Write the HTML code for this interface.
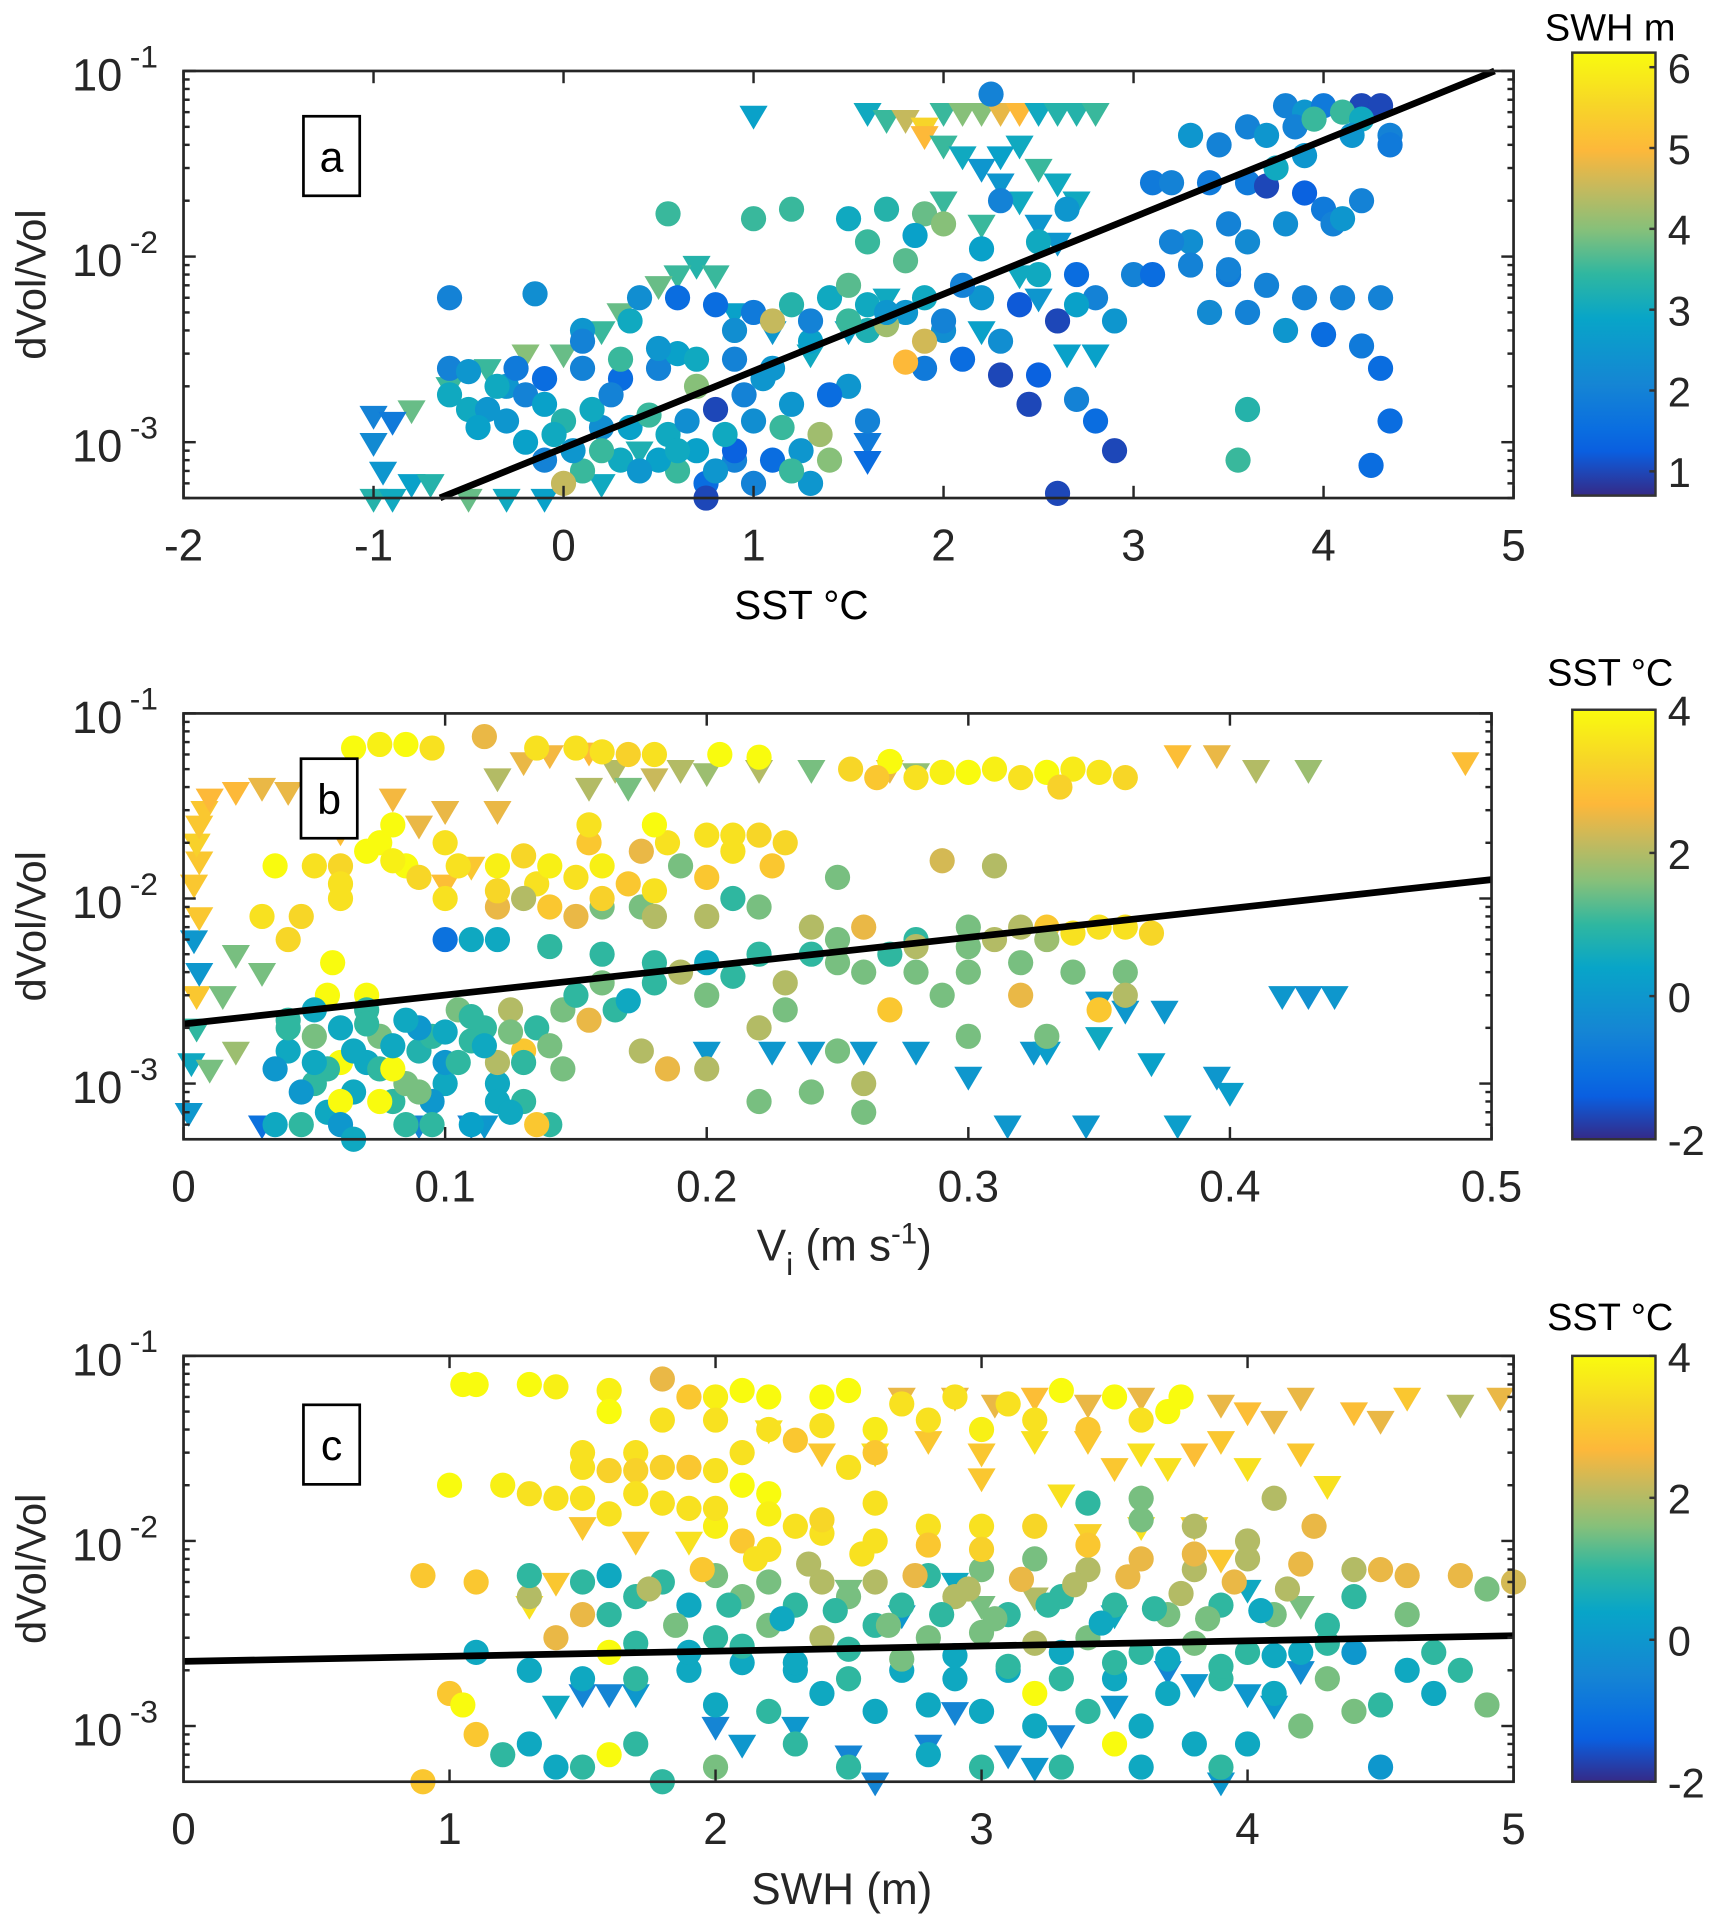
<!DOCTYPE html>
<html><head><meta charset="utf-8"><style>
html,body{margin:0;padding:0;background:#fff;}
svg{display:block;font-family:"Liberation Sans",Arial,sans-serif;}
</style></head><body>
<svg id="fig" xmlns="http://www.w3.org/2000/svg" width="1713" height="1920" viewBox="0 0 1400 1569" preserveAspectRatio="none">
<defs>
<linearGradient id="parula" x1="0" y1="1" x2="0" y2="0">
<stop offset="0" stop-color="#352a87"/><stop offset="0.1" stop-color="#0a5fe0"/><stop offset="0.15" stop-color="#0a6ee0"/>
<stop offset="0.25" stop-color="#1585d4"/><stop offset="0.4" stop-color="#08a5c8"/><stop offset="0.5" stop-color="#2fb7a0"/>
<stop offset="0.6" stop-color="#86c07a"/><stop offset="0.7" stop-color="#c9b95b"/><stop offset="0.78" stop-color="#fdb83a"/>
<stop offset="0.88" stop-color="#f7d528"/><stop offset="1" stop-color="#f9fb0e"/>
</linearGradient>
</defs>
</svg>
<script>
// ---------- Panel a data (SST, dVol/Vol, SWH) ----------
const aCircX=[3.8,3.9,4.0,4.2,4.3,4.1,4.35,3.6,3.7,3.3,3.45,4.2,3.9,4.35,3.1,3.2,3.4,3.6,3.7,3.9,4.0,4.05,4.1,3.8,3.5,3.6,3.3,3.0,2.7,3.1,3.3,3.5,3.7,3.9,4.1,4.3,3.4,3.6,3.8,4.0,4.2,4.3,4.35,4.25,3.6,3.55,2.6,2.9,2.8,2.7,2.45,2.5,2.3,2.1,1.9,2.3,2.0,1.5,1.6,1.4,1.2,1.0,0.8,1.1,1.3,0.9,0.75,0.6,0.5,0.3,0.1,0.0,-0.1,0.2,-0.2,-0.3,-0.5,-0.3,-0.1,0.1,0.3,0.5,0.7,-0.25,-0.6,-0.6,-0.15,0.4,0.6,0.8,1.0,1.2,1.4,1.6,1.8,2.0,2.2,2.4,2.6,2.8,1.1,1.6,1.9,1.8,1.7,0.55,1.0,1.2,1.5,1.7,1.9,1.85,1.6,2.3,2.0,2.2,1.8,1.5,2.5,2.5,2.65,2.25,0.75,0.9,-0.6,0.1,0.6,0.9,1.3];
const aCircY=[0.065,0.06,0.065,0.065,0.065,0.06,0.045,0.05,0.045,0.045,0.04,0.055,0.035,0.04,0.025,0.025,0.025,0.025,0.024,0.022,0.018,0.015,0.016,0.015,0.015,0.012,0.012,0.008,0.008,0.008,0.009,0.008,0.007,0.006,0.006,0.006,0.005,0.005,0.004,0.0038,0.0033,0.0025,0.0013,0.00075,0.0015,0.0008,0.00053,0.0009,0.0013,0.0017,0.0016,0.0023,0.0023,0.0028,0.0025,0.0035,0.004,0.002,0.0013,0.0018,0.0016,0.0013,0.0015,0.0008,0.0006,0.0008,0.0006,0.0007,0.0008,0.0008,0.0007,0.0006,0.0008,0.0012,0.001,0.0013,0.0015,0.002,0.0022,0.0025,0.0022,0.0025,0.002,0.0025,0.0018,0.006,0.0063,0.006,0.006,0.0055,0.005,0.0055,0.006,0.0055,0.005,0.0045,0.006,0.0055,0.0045,0.006,0.0045,0.004,0.0035,0.0027,0.0043,0.017,0.016,0.018,0.016,0.018,0.017,0.013,0.012,0.02,0.015,0.011,0.0095,0.007,0.008,0.012,0.018,0.075,0.0005,0.0009,0.0025,0.004,0.003,0.004,0.0035];
const aCircC=[2,2.5,1.8,1,1,3.5,2,2,2.5,2.5,2,3,2.5,1.8,1.8,2,1.8,1.8,1,1.3,1.8,2,2.5,2.3,2,2.2,2.3,2,1.5,1.5,2,1.8,2,2,2,2,2.2,2,2.5,1.5,1.8,1.5,1.5,1.5,3.3,3.5,1,1,1.5,2,1,1.3,1,1.5,1.8,2.3,2.3,2.5,2,1.5,2.5,2.3,1,1.5,2.5,2,1.5,3.5,2.8,3,3.5,4.5,2,2.3,2.8,2.5,3,2.5,1.5,2,1.5,2,4,1.8,3,2,2.3,2.3,1.5,1.5,1.8,3.3,3,3,2.5,2,2.5,1.2,1,2,4.5,3.2,4.6,5,4.2,3.5,3.5,3.5,3,3.3,3.8,2.8,3.5,2,4,2.8,3.7,3.7,3,3,2.5,2,1,1.3,2,2.5,2.8,2.3,2.8];
const aCircX2=[-0.4,-0.35,-0.2,-0.1,0,0.05,0.15,0.25,0.35,0.45,0.55,0.65,0.7,0.85,0.95,1.05,1.15,1.25,1.35,-0.45,-0.05,0.2,0.4,0.6,0.8,1.0,1.2,1.4,0.3,0.5,0.7,-0.5,0.1,0.35,0.9,1.1,1.3,1.5,1.7,1.9,2.1,2.7,2.9,3.2,3.5,3.75,3.85,4.15,3.95,4.2];
const aCircY2=[0.0015,0.002,0.0018,0.0016,0.0013,0.0009,0.0015,0.0018,0.0012,0.0014,0.0011,0.0013,0.0009,0.0011,0.0018,0.0022,0.0012,0.0009,0.0011,0.0012,0.0011,0.0009,0.0007,0.0009,0.0007,0.0006,0.0007,0.0008,0.0028,0.0032,0.0028,0.0024,0.0035,0.0045,0.0028,0.0025,0.0045,0.0045,0.005,0.006,0.007,0.0055,0.0045,0.012,0.0085,0.03,0.05,0.045,0.055,0.02];
const aCircC2=[2.5,3,2,2.8,3.3,2.5,3,2,2.8,3.5,3,2.3,2.8,3,2,2.5,3.5,2.5,4.2,2.8,3,3.5,2.5,3,2.5,2,3.5,4,3.5,2.5,3,2.5,2,3,2,2.5,2,3.5,2.5,3,2,2.8,2.5,2,2,3,2,2.5,3.5,2];
const aTriX=[1.0,1.6,1.7,1.8,1.9,2.0,2.1,2.2,2.3,2.4,2.5,2.6,2.7,2.8,1.9,2.0,2.1,2.2,2.3,2.4,2.5,2.6,2.3,2.4,2.5,2.6,2.2,2.0,2.7,2.4,2.5,2.65,2.8,2.2,1.7,1.5,1.3,1.1,0.9,0.7,0.6,0.8,0.5,0.3,0.2,0.0,-0.2,-0.4,-0.6,-0.8,-1.0,-0.9,-1.0,-0.95,-1.0,-0.9,-0.8,-0.7,-0.5,-0.3,-0.1,0.2,0.4,1.6,1.6];
const aTriY=[0.058,0.06,0.055,0.055,0.05,0.06,0.06,0.06,0.06,0.06,0.06,0.06,0.06,0.06,0.045,0.04,0.035,0.03,0.035,0.04,0.03,0.025,0.025,0.02,0.015,0.012,0.015,0.02,0.02,0.008,0.006,0.003,0.003,0.004,0.006,0.004,0.003,0.004,0.005,0.009,0.008,0.008,0.007,0.005,0.004,0.003,0.003,0.0025,0.002,0.0015,0.0014,0.0013,0.001,0.0007,0.0005,0.0005,0.0006,0.0006,0.0005,0.0005,0.0005,0.0006,0.0009,0.001,0.0008];
const aTriC=[2.8,3,3.5,4.5,5.5,3.5,4,4,4.8,5,3,3.3,3.3,3.5,5,3.5,3,2.5,2.8,3,3.5,3,2.5,3,2.5,2.5,3.5,3.5,3,3,2.5,2.8,2.8,2.8,3,2.8,3,2.5,2.8,3.3,3.5,3.5,3.8,3.8,3.5,3.8,4,3.5,3.5,3.8,2,1.8,2.2,2.5,3.3,3,2.8,3.3,3.8,3,2.8,3,3.2,1.8,1.5];
const aFit=[-3.031,0.4144]; const aFitRange=[-0.65,4.9];
const aXTicks=[-2,-1,0,1,2,3,4,5];
const aCbTicks=[1,2,3,4,5,6];

// ---------- Panel b data (Vi, dVol/Vol, SST) ----------
const bCircX=[0.065,0.075,0.085,0.095,0.115,0.135,0.15,0.16,0.17,0.18,0.205,0.22,0.255,0.27,0.28,0.29,0.3,0.31,0.32,0.33,0.34,0.35,0.36,0.265,0.335,0.035,0.05,0.06,0.07,0.075,0.08,0.085,0.09,0.1,0.105,0.12,0.13,0.135,0.14,0.15,0.155,0.16,0.17,0.175,0.185,0.2,0.21,0.22,0.225,0.19,0.29,0.31,0.25,0.18,0.155,0.03,0.04,0.045,0.06,0.057,0.055,0.07,0.12,0.13,0.15,0.16,0.175,0.18,0.2,0.21,0.22,0.24,0.25,0.26,0.28,0.3,0.32,0.33,0.34,0.35,0.36,0.37,0.33,0.1,0.11,0.12,0.14,0.16,0.18,0.2,0.22,0.24,0.26,0.28,0.3,0.32,0.34,0.36,0.29,0.32,0.35,0.36,0.27,0.23,0.22,0.25,0.26,0.3,0.2,0.22,0.24,0.26,0.33,0.04,0.05,0.06,0.07,0.08,0.09,0.1,0.11,0.12,0.13,0.14,0.045,0.055,0.065,0.075,0.085,0.095,0.105,0.115,0.125,0.135,0.145,0.155,0.165,0.175,0.185,0.06,0.08,0.06,0.075,0.04,0.05,0.07,0.09,0.1,0.11,0.12,0.13,0.135,0.145,0.05,0.085];
const bCircY=[0.065,0.068,0.068,0.065,0.075,0.065,0.065,0.062,0.06,0.06,0.06,0.058,0.05,0.055,0.045,0.048,0.048,0.05,0.045,0.048,0.05,0.048,0.045,0.045,0.04,0.015,0.015,0.015,0.018,0.02,0.025,0.015,0.013,0.02,0.015,0.015,0.017,0.012,0.015,0.013,0.02,0.015,0.012,0.018,0.02,0.022,0.022,0.022,0.015,0.015,0.016,0.015,0.013,0.025,0.025,0.008,0.006,0.008,0.01,0.0045,0.003,0.003,0.009,0.01,0.008,0.009,0.009,0.008,0.008,0.01,0.009,0.007,0.006,0.007,0.006,0.007,0.007,0.007,0.0065,0.007,0.007,0.0065,0.006,0.006,0.006,0.006,0.0055,0.005,0.0045,0.0045,0.005,0.005,0.004,0.004,0.004,0.0045,0.004,0.004,0.003,0.003,0.0025,0.003,0.0025,0.0025,0.002,0.0015,0.001,0.0018,0.0012,0.0008,0.0009,0.0007,0.0018,0.0015,0.001,0.002,0.0013,0.0008,0.0015,0.001,0.0006,0.001,0.0008,0.0006,0.0006,0.0007,0.0009,0.0012,0.001,0.0018,0.0025,0.002,0.0025,0.002,0.0025,0.0022,0.0025,0.0015,0.0012,0.0013,0.0012,0.0008,0.0008,0.002,0.0025,0.0025,0.002,0.0013,0.0017,0.0013,0.0015,0.0006,0.0012,0.0018,0.0006];
const bCircC=[4,3.8,4,3.5,2.5,3.5,3.5,3.5,3.2,3.5,4,4,3.3,4,3.5,3.8,4,3.8,3.5,4,3.7,3.6,3.3,3,3.2,4,3.5,3.3,4,4,4,4,3.3,3.5,3.5,3.8,3.3,3.5,3.8,3.5,3,3.8,3,2.5,3.5,3.5,3.5,3.3,3,1.5,2.3,2,1.5,4,3.5,3.5,3.3,3.3,3.5,4,4,4,2.5,2,2.5,1.5,1.5,2,2,1,1.5,2,1.5,2.5,1,1.5,2,3,3.5,3.5,3.5,3.3,1.8,-1,0.5,0.5,1,1,1,0.5,1,1,1.5,1.5,1.5,1.5,1.5,1.5,1.5,2.5,3,2,3,1.5,2,1.5,2,1.5,2,1.5,1.5,1.5,1.5,0.5,1,0.5,0.5,1,0.8,0.5,0.3,0.5,1,1,1,0.5,0.5,1,1.5,1,1.5,1,2,1,1.5,2.5,1,2,2.5,4,4,4,4,1,0.5,1,0,0,1,2,3,3,1.5,1.5,1];
const bCircX2=[0.035,0.045,0.055,0.065,0.075,0.085,0.095,0.105,0.115,0.125,0.04,0.05,0.06,0.07,0.08,0.09,0.1,0.11,0.12,0.13,0.14,0.035,0.065,0.095,0.125,0.15,0.16,0.17,0.18,0.19,0.2,0.21,0.23,0.25,0.27,0.28,0.3,0.31,0.06,0.08,0.1,0.12,0.14,0.16,0.18,0.2,0.21,0.23];
const bCircY2=[0.0006,0.0009,0.0012,0.0015,0.0018,0.0022,0.0008,0.0013,0.0016,0.0019,0.0022,0.0013,0.0006,0.0021,0.0016,0.0009,0.0019,0.0023,0.0008,0.0013,0.0016,0.0012,0.0005,0.0006,0.0007,0.003,0.0035,0.0028,0.0035,0.004,0.003,0.0038,0.0035,0.0045,0.005,0.0055,0.0055,0.006,0.012,0.016,0.01,0.011,0.009,0.01,0.011,0.013,0.018,0.02];
const bCircC2=[0.5,0,1,0.5,1.5,0.5,0,1,0.5,1.5,1,0.5,0,1,0.5,1.5,0.5,1,0.5,1,1.5,0,0.5,1,0.5,1,1.5,0.5,1,2,1.5,1,2,1.5,1,2,1.5,2,3.5,3.8,3.5,3.3,3,3.2,3.5,3,3.5,3.3];
const bTriX=[0.002,0.003,0.005,0.005,0.006,0.004,0.006,0.004,0.006,0.005,0.006,0.008,0.01,0.02,0.03,0.04,0.06,0.08,0.1,0.12,0.09,0.06,0.02,0.03,0.015,0.01,0.02,0.13,0.14,0.155,0.165,0.18,0.19,0.2,0.22,0.24,0.27,0.28,0.38,0.395,0.41,0.43,0.49,0.12,0.1,0.155,0.17,0.11,0.1,0.2,0.225,0.24,0.26,0.28,0.3,0.315,0.325,0.33,0.345,0.35,0.36,0.375,0.37,0.38,0.4,0.395,0.42,0.43,0.44,0.35,0.11,0.115,0.09,0.03];
const bTriY=[0.0007,0.0013,0.002,0.003,0.004,0.006,0.008,0.012,0.016,0.02,0.025,0.03,0.035,0.038,0.04,0.038,0.035,0.035,0.03,0.03,0.025,0.023,0.005,0.004,0.003,0.0012,0.0015,0.055,0.06,0.062,0.05,0.045,0.05,0.048,0.05,0.05,0.05,0.048,0.06,0.06,0.05,0.05,0.055,0.045,0.03,0.04,0.04,0.015,0.012,0.0015,0.0015,0.0015,0.0015,0.0015,0.0011,0.0006,0.0015,0.0015,0.0006,0.0018,0.0025,0.0025,0.0013,0.0006,0.0009,0.0011,0.003,0.003,0.003,0.0028,0.0006,0.0006,0.0006,0.0006];
const bTriC=[0,0.5,1,3,0,0,3,3,3,3.2,3,3,2.7,2.7,2.5,2.5,2.5,2.6,2.5,2.5,2.5,2.8,1.5,1.5,1.5,1.5,1.8,2.5,2.6,2.7,2,2.2,2,1.8,2,1.5,2.5,1.7,2.8,2.5,2,1.8,2.8,2,2.5,2,1.5,3,2.8,0,0,0,0,0,0,0,0,0.2,0,0.5,0,0,0.3,0.2,0.2,0,0,-0.2,0,0,-0.5,0,-0.5,-1];
const bFit=[-2.678,1.56]; const bFitRange=[0,0.5];
const bXTicks=[0,0.1,0.2,0.3,0.4,0.5];
const bCbTicks=[-2,0,2,4];

// ---------- Panel c data (SWH, dVol/Vol, SST) ----------
const cCircX=[1.05,1.1,1.3,1.4,1.6,1.8,1.9,2.0,2.1,2.2,2.4,2.5,2.7,2.9,3.1,3.3,3.5,3.75,1.6,1.8,2.0,2.2,2.4,2.6,2.8,3.0,3.2,3.4,3.6,3.7,1.5,1.7,1.9,2.1,2.3,2.5,2.6,1.5,1.6,1.7,1.8,2.0,1.0,1.2,1.3,1.4,1.5,1.6,1.7,1.8,1.9,2.1,2.2,2.3,2.0,2.1,2.2,2.4,2.6,2.8,3.0,3.2,0.9,1.1,1.3,1.5,1.4,1.6,1.0,1.05,1.1,1.2,0.9,1.6,3.5,3.2,1.3,1.5,1.6,1.8,2.0,2.2,2.4,2.6,2.8,3.0,3.2,3.4,3.6,3.8,4.0,4.2,4.4,4.6,4.8,5.0,3.6,3.8,4.0,4.25,3.4,3.6,4.1,4.5,4.9,4.4,1.7,1.9,2.1,2.3,2.5,2.7,2.9,3.1,3.3,3.5,3.7,3.9,4.1,4.3,2.0,2.2,2.4,2.6,2.8,3.0,3.2,3.4,3.6,3.8,4.0,4.2,4.4,4.6,4.8,1.1,1.3,1.5,1.7,1.9,2.1,2.3,2.5,2.7,2.9,3.1,3.3,3.5,3.7,3.9,4.1,4.3,4.5,4.7,4.9,2.0,2.2,2.4,2.6,2.8,3.0,3.2,3.4,3.6,3.8,4.0,4.2,4.4,1.3,1.4,1.5,1.7,1.8,2.0,2.3,2.5,2.8,3.0,3.3,3.6,3.9,4.5];
const cCircY=[0.07,0.07,0.07,0.068,0.065,0.075,0.06,0.06,0.065,0.06,0.06,0.065,0.055,0.06,0.055,0.065,0.06,0.06,0.05,0.045,0.045,0.04,0.042,0.04,0.045,0.04,0.045,0.04,0.045,0.05,0.03,0.03,0.025,0.03,0.035,0.025,0.03,0.025,0.024,0.024,0.025,0.024,0.02,0.02,0.018,0.017,0.017,0.014,0.018,0.016,0.015,0.02,0.018,0.012,0.012,0.01,0.009,0.011,0.01,0.012,0.012,0.012,0.0065,0.006,0.005,0.004,0.003,0.0025,0.0015,0.0013,0.0009,0.0007,0.0005,0.0007,0.0008,0.0015,0.0065,0.006,0.0065,0.006,0.0065,0.006,0.006,0.006,0.0065,0.007,0.008,0.007,0.008,0.007,0.008,0.0075,0.007,0.0065,0.0065,0.006,0.013,0.012,0.01,0.012,0.016,0.017,0.017,0.007,0.0055,0.005,0.005,0.0045,0.005,0.0045,0.005,0.0045,0.005,0.004,0.005,0.0045,0.004,0.0045,0.004,0.0035,0.003,0.0035,0.003,0.0035,0.003,0.0032,0.0028,0.003,0.0025,0.0028,0.0025,0.0025,0.0025,0.002,0.002,0.0025,0.002,0.0018,0.0018,0.002,0.0022,0.002,0.0018,0.002,0.0018,0.002,0.0018,0.0018,0.0015,0.0018,0.0015,0.0018,0.0013,0.0015,0.0013,0.0013,0.0012,0.0015,0.0012,0.0013,0.0012,0.001,0.0012,0.001,0.0008,0.0008,0.001,0.0012,0.0008,0.0006,0.0006,0.0008,0.0005,0.0006,0.0008,0.0006,0.0007,0.0006,0.0006,0.0006,0.0006,0.0006];
const cCircC=[4,4,4,3.8,3.8,2.5,3,3.8,4,4,4,4,3.5,3.5,3.5,4,4,4,4,3.5,3.5,3.5,3.5,3.7,3.5,3.8,3.5,3,3.5,4,3.5,3.5,3,3.5,3,3.5,3,3.5,3.2,3.2,3.2,3.5,4,3.8,3.5,3.5,3.5,3.5,3.5,3.5,3.5,4,4,3.5,3.8,3,3.5,3.5,3.5,3.5,3.5,3.3,3,3,2,2.5,2.5,4,3,4,3,1,3,4,4,4,1,1,0.5,1,1.5,1.5,2,2,1,1.5,1.5,2,2.5,2,2,2.5,2,2.5,2.5,2.3,1.5,2,2,2.5,1,1.5,2,2.5,1.5,1,1,0.5,1.5,1,1.5,1,2,1,1,1,1.5,1,1.5,1,1,1.5,2,1,1.5,1.5,2,1.5,1,1.5,1,0.5,0,0.5,1,0.5,0.5,0.5,1,0.5,0.5,0.5,1,0.5,0.5,0.5,1,0.5,0.5,1,0.5,1.5,1,0.5,1.5,0.5,1,0.5,0.5,0.5,0.5,0.5,1,0.5,0.5,0.5,1.5,1.5,0.5,0.5,1,1,1,1.5,1,1,0.5,1,1,0.5,1,0];
const cCircX2=[1.6,1.75,1.85,1.95,2.05,2.15,2.25,2.35,2.45,2.55,2.65,2.75,2.85,2.95,3.05,3.15,3.25,3.35,3.45,3.55,3.65,3.75,3.85,3.95,4.05,4.15,1.7,1.9,2.1,2.3,2.5,2.7,2.9,3.1,3.3,3.5,3.7,3.9,4.1,4.3,2.0,2.2,2.4,2.6,2.8,3.0,3.4,3.8,4.6,4.7];
const cCircY2=[0.004,0.0055,0.0035,0.007,0.0045,0.008,0.0038,0.0075,0.0042,0.0085,0.0035,0.0065,0.004,0.0055,0.0038,0.0062,0.0045,0.0058,0.0036,0.0064,0.0043,0.0052,0.0038,0.006,0.0042,0.0055,0.0028,0.0025,0.0027,0.0022,0.0026,0.0023,0.0024,0.0021,0.0025,0.0022,0.0023,0.0021,0.0024,0.0028,0.015,0.014,0.013,0.016,0.0095,0.009,0.0095,0.0085,0.004,0.0025];
const cCircC2=[1,2,1.5,3,1,3.5,0.5,2,1,3.5,1.5,2.5,1,2,1.5,2.5,1,2,0.5,2.5,1,2,1.5,2.5,0.5,2,1,0.5,1,0.5,1,1.5,0.5,1,0.5,1,0.5,1,0.5,1,3.5,3.8,3.3,3.5,3,3.2,3,2.5,1.5,1];
const cTriX=[2.7,2.9,3.05,3.2,3.4,3.6,3.9,4.0,4.2,4.4,4.6,4.8,4.95,4.1,4.5,2.2,2.4,2.6,2.8,3.0,3.2,3.4,3.6,3.8,3.9,3.7,3.5,4.0,4.2,4.3,3.0,3.3,1.5,1.7,1.9,3.4,3.6,3.8,3.9,1.4,1.3,3.0,3.2,3.5,2.7,2.5,2.9,4.0,4.2,1.5,1.6,1.7,2.0,2.1,2.3,2.5,2.6,2.8,2.9,3.1,3.3,3.5,3.7,3.8,4.0,4.1,4.2,3.2,3.9,1.4];
const cTriY=[0.06,0.06,0.055,0.06,0.055,0.06,0.055,0.05,0.06,0.05,0.06,0.055,0.06,0.045,0.045,0.04,0.03,0.03,0.035,0.03,0.035,0.035,0.03,0.03,0.035,0.025,0.025,0.025,0.03,0.02,0.022,0.018,0.012,0.01,0.01,0.011,0.012,0.012,0.008,0.006,0.0045,0.0045,0.005,0.004,0.004,0.0055,0.006,0.0055,0.0045,0.0015,0.0015,0.0015,0.001,0.0008,0.001,0.0007,0.0005,0.0008,0.0012,0.0007,0.0009,0.0013,0.002,0.0017,0.0015,0.0013,0.002,0.0006,0.0005,0.0013];
const cTriC=[2.5,2.5,2.5,2.8,2.5,2.5,2.5,2.8,2.5,2.8,3,2,2.5,2.5,2.5,3.5,3,3.5,3,3,3.5,3,3.5,2.8,3,3.5,3,3.5,3,3.5,3,3.5,3,3,3.5,3.2,3.5,3.2,3,3,3.5,1.5,2,0.5,0,1.5,0.5,0.5,1.5,-0.5,-0.5,0,-0.5,0,0,-0.5,-0.5,-0.5,-0.5,-0.3,-0.5,0,-0.5,0,0,0,-0.3,0,0,0.5];
const cFit=[-2.651,0.0278]; const cFitRange=[0,5];
const cXTicks=[0,1,2,3,4,5];
const cCbTicks=[-2,0,2,4];

// ---------- rendering ----------
const NS="http://www.w3.org/2000/svg";
const svg=document.getElementById('fig');
const TXT="#262626";
const stops=[[0,[53,42,135]],[0.1,[10,95,224]],[0.15,[10,110,224]],[0.25,[21,133,212]],[0.4,[8,165,200]],[0.5,[47,183,160]],[0.6,[134,192,122]],[0.7,[201,185,91]],[0.78,[253,184,58]],[0.88,[247,213,40]],[1,[249,251,14]]];
function cmap(t){t=Math.max(0,Math.min(1,t));for(let i=1;i<stops.length;i++){if(t<=stops[i][0]){const a=stops[i-1],b=stops[i];const f=(t-a[0])/(b[0]-a[0]);const c=a[1].map((v,k)=>Math.round(v+(b[1][k]-v)*f));return `rgb(${c[0]},${c[1]},${c[2]})`;}}return 'rgb(249,251,14)';}
function mk(tag,attrs,parent){const e=document.createElementNS(NS,tag);for(const k in attrs)e.setAttribute(k,attrs[k]);(parent||svg).appendChild(e);return e;}

function panel(cfg){
  const g=mk('g',{});
  
  
  const ymin=5e-4,ymax=0.1;
  const X=v=>cfg.x0+(v-cfg.xmin)/(cfg.xmax-cfg.xmin)*(cfg.x1-cfg.x0);
  const Y=v=>cfg.y1-(Math.log10(v)-Math.log10(ymin))/(Math.log10(ymax)-Math.log10(ymin))*(cfg.y1-cfg.y0);
  const C=v=>cmap((v-cfg.cmin)/(cfg.cmax-cfg.cmin));
  const clip='clip-'+cfg.name;
  const cp=mk('clipPath',{id:clip},g);mk('rect',{x:cfg.x0-12,y:cfg.y0-12,width:cfg.x1-cfg.x0+24,height:cfg.y1-cfg.y0+24},cp);
  const mg=mk('g',{'clip-path':`url(#${clip})`},g);
  const r=10.3;
  cfg.tx.forEach((x,i)=>{const cx=X(x),cy=Y(cfg.ty[i]);
    const t=mk('polygon',{points:`${cx-11.5},${cy-7.5} ${cx+11.5},${cy-7.5} ${cx},${cy+12}`,fill:C(cfg.tc[i])},mg);
    
    });
  cfg.cx.forEach((x,i)=>{
    const c=mk('circle',{cx:X(x),cy:Y(cfg.cy[i]),r:r,fill:C(cfg.cc[i])},mg);
    
    });
  const f=v=>Math.pow(10,cfg.fit[0]+cfg.fit[1]*v);
  const ln=mk('line',{x1:X(cfg.fitR[0]),y1:Y(f(cfg.fitR[0])),x2:X(cfg.fitR[1]),y2:Y(f(cfg.fitR[1])),stroke:'#000','stroke-width':5.5},g);
  
  
  const box=mk('rect',{x:cfg.x0,y:cfg.y0,width:cfg.x1-cfg.x0,height:cfg.y1-cfg.y0,fill:'none',stroke:TXT,'stroke-width':2.2},g);
  
  
  cfg.xticks.forEach(v=>{const x=X(v);
    mk('line',{x1:x,y1:cfg.y1,x2:x,y2:cfg.y1-10,stroke:TXT,'stroke-width':2},g);
    mk('line',{x1:x,y1:cfg.y0,x2:x,y2:cfg.y0+10,stroke:TXT,'stroke-width':2},g);
    const t=mk('text',{x:x,y:cfg.y1+51,'font-size':36,'text-anchor':'middle',fill:TXT},g);
    t.textContent=String(v);
    
    });
  for(let d=-4;d<=-1;d++){for(let m=1;m<10;m++){const v=m*Math.pow(10,d);if(v<ymin-1e-12||v>ymax+1e-12)continue;const y=Y(v);const L=m===1?10:5;
    mk('line',{x1:cfg.x0,y1:y,x2:cfg.x0+L,y2:y,stroke:TXT,'stroke-width':2},g);
    mk('line',{x1:cfg.x1,y1:y,x2:cfg.x1-L,y2:y,stroke:TXT,'stroke-width':2},g);}}
  [-1,-2,-3].forEach(e=>{const y=Y(Math.pow(10,e));
    const t=mk('text',{x:100,y:y+16,'font-size':37,'text-anchor':'end',fill:TXT},g);t.textContent='10';
    
    
    const s=mk('text',{x:106,y:y-3,'font-size':26,fill:TXT},g);s.textContent=String(e);
    
    });
  const yl=mk('text',{x:0,y:0,'font-size':34,'text-anchor':'middle',fill:TXT,transform:`translate(37,${(cfg.y0+cfg.y1)/2}) rotate(-90)`},g);
  yl.textContent='dVol/Vol';
  
  
  const lb=mk('rect',{x:cfg.lx,y:cfg.ly,width:46,height:65,fill:'#fff',stroke:'#000','stroke-width':2.2},g);
  
  
  const lt=mk('text',{x:cfg.lx+23,y:cfg.ly+45,'font-size':35,'text-anchor':'middle',fill:'#000'},g);lt.textContent=cfg.letter;
  
  
  const cb=mk('rect',{x:1285,y:cfg.cby0,width:68,height:cfg.cby1-cfg.cby0,fill:'url(#parula)',stroke:'#333','stroke-width':2},g);
  
  
  const CY=v=>cfg.cby1-(v-cfg.cmin)/(cfg.cmax-cfg.cmin)*(cfg.cby1-cfg.cby0);
  cfg.cbticks.forEach(v=>{const y=CY(v);
    mk('line',{x1:1353,y1:y,x2:1348,y2:y,stroke:'#333','stroke-width':2},g);
    const t=mk('text',{x:1363,y:y+13,'font-size':34,fill:TXT},g);t.textContent=String(v);
    
    });
  const ct=mk('text',{x:1316,y:cfg.cbTitleY,'font-size':31,'text-anchor':'middle',fill:'#000'},g);ct.textContent=cfg.cbTitle;
  
  
  return g;
}

panel({name:'panel-a',x0:150,x1:1237,y0:58,y1:407,xmin:-2,xmax:5,cmin:0.7,cmax:6.18,cx:aCircX.concat(aCircX2),cy:aCircY.concat(aCircY2),cc:aCircC.concat(aCircC2),tx:aTriX,ty:aTriY,tc:aTriC,fit:aFit,fitR:aFitRange,xticks:aXTicks,cbticks:aCbTicks,cby0:43,cby1:405,cbTitle:'SWH m',cbTitleY:33,letter:'a',lx:248,ly:95});
panel({name:'panel-b',x0:150,x1:1219,y0:583,y1:931,xmin:0,xmax:0.5,cmin:-2,cmax:4,cx:bCircX.concat(bCircX2),cy:bCircY.concat(bCircY2),cc:bCircC.concat(bCircC2),tx:bTriX,ty:bTriY,tc:bTriC,fit:bFit,fitR:bFitRange,xticks:bXTicks,cbticks:bCbTicks,cby0:580,cby1:931,cbTitle:'SST °C',cbTitleY:560,letter:'b',lx:246,ly:620});
panel({name:'panel-c',x0:150,x1:1237,y0:1108,y1:1456,xmin:0,xmax:5,cmin:-2,cmax:4,cx:cCircX.concat(cCircX2),cy:cCircY.concat(cCircY2),cc:cCircC.concat(cCircC2),tx:cTriX,ty:cTriY,tc:cTriC,fit:cFit,fitR:cFitRange,xticks:cXTicks,cbticks:cCbTicks,cby0:1108,cby1:1456,cbTitle:'SST °C',cbTitleY:1087,letter:'c',lx:248,ly:1148});

let t=mk('text',{x:655,y:506,'font-size':33,'text-anchor':'middle',fill:'#000'});t.textContent='SST °C';


t=mk('text',{x:690,y:1030,'font-size':36,'text-anchor':'middle',fill:TXT});


t.innerHTML='V<tspan font-size="26" dy="12">i</tspan><tspan dy="-12"> (m s</tspan><tspan font-size="24" dy="-14">-1</tspan><tspan dy="14">)</tspan>';
t=mk('text',{x:688,y:1556,'font-size':36,'text-anchor':'middle',fill:TXT});t.textContent='SWH (m)';


</script>
</body></html>
